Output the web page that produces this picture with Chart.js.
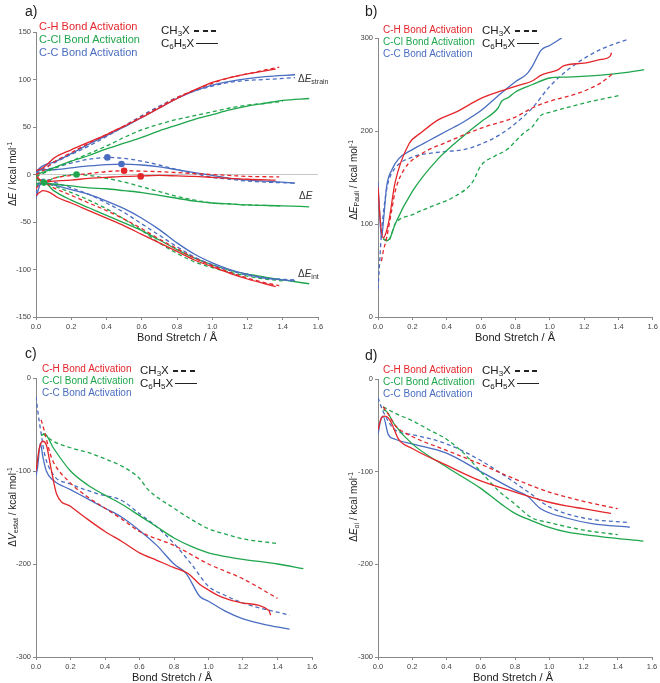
<!DOCTYPE html>
<html>
<head>
<meta charset="utf-8">
<script src="https://cdn.jsdelivr.net/npm/chart.js@4.4.1/dist/chart.umd.min.js"></script>
<style>
  body { margin: 0; background: #fff; }
  #wrap { position: relative; width: 660px; height: 683px; font-family: "Liberation Sans", Arial, sans-serif; color: #222; }
  canvas { position: absolute; }
  .t { position: absolute; white-space: nowrap; line-height: 1; }
  .lab { font-size: 14px; }
  .leg { font-size: 10px; }
  .leg div { height: 12px; }
  .leg.big { font-size: 11px; }
  .leg.big div { height: 13px; }
  .red { color: #e4262b; } .green { color: #1fa64c; } .blue { color: #4a6dc1; }
  .sty { font-size: 11.5px; }
  .sty div { height: 12.5px; }
  .dash { display: inline-block; width: 22px; height: 1.5px; vertical-align: middle; margin-left: 4px;
          background: repeating-linear-gradient(90deg, #222 0, #222 5px, transparent 5px, transparent 8.5px); }
  .solid { display: inline-block; width: 22px; border-top: 1.6px solid #222; vertical-align: middle; margin-left: 2px; }
  .ytit { font-size: 10px; transform: translate(-50%, -50%) rotate(-90deg); }
  .xtit { font-size: 11px; transform: translate(-50%, -50%); }
  .ann { font-size: 10px; color: #333; }
  sub { font-size: 70%; vertical-align: -2px; line-height: 0; }
  sup { font-size: 65%; vertical-align: 4px; line-height: 0; }
</style>
</head>
<body>
<div id="wrap">
  <canvas id="ca" width="330" height="340" style="left:0;top:0"></canvas>
  <canvas id="cb" width="330" height="340" style="left:330px;top:0"></canvas>
  <canvas id="cc" width="330" height="343" style="left:0;top:340px"></canvas>
  <canvas id="cd" width="330" height="343" style="left:330px;top:340px"></canvas>

  <div class="t lab" style="left:25px;top:4px">a)</div>
  <div class="t lab" style="left:365px;top:4px">b)</div>
  <div class="t lab" style="left:25px;top:346px">c)</div>
  <div class="t lab" style="left:365px;top:348px">d)</div>

  <div class="t leg big" style="left:39px;top:21px"><div class="red">C-H Bond Activation</div><div class="green">C-Cl Bond Activation</div><div class="blue">C-C Bond Activation</div></div>
  <div class="t leg" style="left:383px;top:25px"><div class="red">C-H Bond Activation</div><div class="green">C-Cl Bond Activation</div><div class="blue">C-C Bond Activation</div></div>
  <div class="t leg" style="left:42px;top:364px"><div class="red">C-H Bond Activation</div><div class="green">C-Cl Bond Activation</div><div class="blue">C-C Bond Activation</div></div>
  <div class="t leg" style="left:383px;top:365px"><div class="red">C-H Bond Activation</div><div class="green">C-Cl Bond Activation</div><div class="blue">C-C Bond Activation</div></div>

  <div class="t sty" style="left:161px;top:25px"><div>CH<sub>3</sub>X<span class="dash"></span></div><div>C<sub>6</sub>H<sub>5</sub>X<span class="solid"></span></div></div>
  <div class="t sty" style="left:482px;top:25px"><div>CH<sub>3</sub>X<span class="dash"></span></div><div>C<sub>6</sub>H<sub>5</sub>X<span class="solid"></span></div></div>
  <div class="t sty" style="left:140px;top:365px"><div>CH<sub>3</sub>X<span class="dash"></span></div><div>C<sub>6</sub>H<sub>5</sub>X<span class="solid"></span></div></div>
  <div class="t sty" style="left:482px;top:365px"><div>CH<sub>3</sub>X<span class="dash"></span></div><div>C<sub>6</sub>H<sub>5</sub>X<span class="solid"></span></div></div>

  <div class="t ytit" style="left:13px;top:174px">&Delta;<i>E</i> / kcal mol<sup>-1</sup></div>
  <div class="t ytit" style="left:354px;top:180px">&Delta;<i>E</i><sub>Pauli</sub> / kcal mol<sup>-1</sup></div>
  <div class="t ytit" style="left:13px;top:507px">&Delta;<i>V</i><sub>estat</sub> / kcal mol<sup>-1</sup></div>
  <div class="t ytit" style="left:354px;top:507px">&Delta;<i>E</i><sub>oi</sub> / kcal mol<sup>-1</sup></div>

  <div class="t xtit" style="left:177px;top:337px">Bond Stretch / Å</div>
  <div class="t xtit" style="left:515px;top:337px">Bond Stretch / Å</div>
  <div class="t xtit" style="left:172px;top:677px">Bond Stretch / Å</div>
  <div class="t xtit" style="left:513px;top:677px">Bond Stretch / Å</div>

  <div class="t ann" style="left:298px;top:74px">&Delta;<i>E</i><sub>strain</sub></div>
  <div class="t ann" style="left:299px;top:191px">&Delta;<i>E</i></div>
  <div class="t ann" style="left:298px;top:269px">&Delta;<i>E</i><sub>int</sub></div>
</div>

<script>
// tick values
var xTicks = [0, 0.2, 0.4, 0.6, 0.8, 1.0, 1.2, 1.4, 1.6];
var yTicksA = [-150, -100, -50, 0, 50, 100, 150];
var yTicksB = [0, 100, 200, 300];
var yTicksC = [-300, -200, -100, 0];
var yTicksD = [-300, -200, -100, 0];

// panel a: strain, total energy, interaction (Ph = C6H5X solid, Me = CH3X dashed)
var aStrainCH_Ph = [[0,4],[0.03,6],[0.06,10],[0.1,17],[0.2,26],[0.3,34],[0.4,42],[0.5,51],[0.6,60],[0.7,70],[0.8,80],[0.9,89],[1.0,97],[1.1,102],[1.2,106],[1.3,109],[1.36,111]];
var aStrainCH_Me = [[0,0],[0.04,4],[0.1,13],[0.2,23],[0.3,33],[0.4,42],[0.5,51],[0.6,61],[0.7,71],[0.8,81],[0.9,89],[1.0,96],[1.1,102],[1.2,106],[1.3,110],[1.38,113]];
var aStrainCCl_Ph = [[0,0],[0.05,3],[0.1,7],[0.2,14],[0.3,20],[0.4,27],[0.5,33],[0.6,39],[0.7,46],[0.8,52],[0.9,58],[1.0,63],[1.1,68],[1.2,72],[1.3,75],[1.4,78],[1.55,80]];
var aStrainCCl_Me = [[0,-2],[0.05,2],[0.1,6],[0.2,14],[0.3,22],[0.4,30],[0.5,39],[0.6,47],[0.7,53],[0.8,58],[0.9,62],[1.0,66],[1.1,70],[1.2,73],[1.3,75],[1.4,77]];
var aStrainCC_Ph = [[0,3],[0.03,8],[0.06,11],[0.1,13],[0.2,22],[0.3,32],[0.4,41],[0.5,50],[0.6,60],[0.7,70],[0.8,80],[0.9,88],[1.0,94],[1.1,98],[1.2,101],[1.3,103],[1.47,105]];
var aStrainCC_Me = [[0,0],[0.04,6],[0.1,12],[0.2,21],[0.3,30],[0.4,40],[0.5,51],[0.6,62],[0.7,72],[0.8,81],[0.9,88],[1.0,93],[1.1,97],[1.2,99],[1.3,100],[1.47,102]];

var aECH_Ph = [[0,-2],[0.02,-5],[0.04,-8],[0.1,-7],[0.2,-6],[0.3,-4],[0.4,-3],[0.5,-2],[0.6,-1.5],[0.7,-1],[0.8,-1.5],[0.9,-2],[1.0,-3],[1.1,-4],[1.2,-5],[1.36,-6]];
var aECH_Me = [[0,0],[0.02,-4],[0.04,-8],[0.1,-4],[0.2,-1],[0.3,1],[0.4,3],[0.5,4],[0.6,3.5],[0.7,3],[0.8,2],[0.9,1],[1.0,0],[1.1,-1],[1.2,-2],[1.38,-2.5]];
var aECCl_Ph = [[0,-3],[0.02,-6],[0.045,-8.5],[0.1,-10],[0.2,-12],[0.3,-14],[0.4,-15],[0.5,-17],[0.6,-19],[0.7,-22],[0.8,-25],[0.9,-28],[1.0,-30],[1.1,-31],[1.2,-32],[1.4,-33],[1.55,-34]];
var aECCl_Me = [[0,-5],[0.04,-8],[0.1,-4],[0.15,-1.5],[0.23,0],[0.3,-1],[0.4,-4],[0.5,-8],[0.6,-13],[0.7,-18],[0.8,-23],[0.9,-27],[1.0,-30],[1.1,-31],[1.2,-32],[1.4,-33]];
var aECC_Ph = [[0,2],[0.03,5],[0.1,5],[0.2,7],[0.3,9],[0.4,10.5],[0.49,11],[0.6,10],[0.7,8],[0.8,5],[0.9,2],[1.0,-1],[1.1,-4],[1.2,-6],[1.3,-7],[1.47,-9]];
var aECC_Me = [[0,0],[0.03,4],[0.1,7],[0.2,12],[0.3,16],[0.41,18],[0.5,17],[0.6,14],[0.7,10],[0.8,5],[0.9,1],[1.0,-3],[1.1,-5],[1.2,-7],[1.3,-8],[1.47,-9]];

var aIntCH_Ph = [[0,-22],[0.02,-19],[0.04,-17],[0.08,-19],[0.12,-24],[0.2,-30],[0.3,-38],[0.4,-46],[0.5,-54],[0.6,-63],[0.7,-72],[0.8,-81],[0.9,-90],[1.0,-97],[1.1,-104],[1.2,-110],[1.3,-115],[1.36,-118]];
var aIntCH_Me = [[0,-15],[0.02,-10],[0.04,-8],[0.1,-14],[0.2,-22],[0.3,-30],[0.4,-38],[0.5,-47],[0.6,-57],[0.7,-68],[0.8,-78],[0.9,-88],[1.0,-96],[1.1,-103],[1.2,-109],[1.3,-114],[1.38,-117]];
var aIntCCl_Ph = [[0,-12],[0.03,-9],[0.05,-9],[0.1,-17],[0.2,-27],[0.3,-35],[0.4,-43],[0.5,-51],[0.6,-59],[0.7,-69],[0.8,-79],[0.9,-88],[1.0,-95],[1.1,-101],[1.2,-105],[1.3,-108],[1.4,-111],[1.55,-115]];
var aIntCCl_Me = [[0,-10],[0.04,-8],[0.1,-12],[0.2,-19],[0.3,-27],[0.4,-36],[0.5,-47],[0.6,-59],[0.7,-72],[0.8,-83],[0.9,-92],[1.0,-98],[1.1,-103],[1.2,-107],[1.3,-110],[1.4,-112]];
var aIntCC_Ph = [[0,-25],[0.02,-12],[0.04,-8],[0.1,-11],[0.2,-16],[0.3,-21],[0.4,-28],[0.5,-36],[0.6,-46],[0.7,-58],[0.8,-72],[0.9,-84],[1.0,-93],[1.1,-100],[1.2,-105],[1.3,-109],[1.47,-112]];
var aIntCC_Me = [[0,-20],[0.02,-8],[0.05,-5],[0.1,-8],[0.2,-14],[0.3,-21],[0.4,-30],[0.5,-40],[0.6,-52],[0.7,-64],[0.8,-76],[0.9,-87],[1.0,-95],[1.1,-101],[1.2,-106],[1.3,-109],[1.47,-111]];

// transition states marked on the ΔE curves
var tsRed = [[0.594,-2],[0.5,4]];
var tsGreen = [[0.23,0],[0.045,-8.5]];
var tsBlue = [[0.485,11],[0.405,18]];
var zeroLine = [[0,0],[1.6,0]];

// panel b: Pauli repulsion
var bCH_Ph = [[0,140],[0.015,100],[0.03,85],[0.06,100],[0.1,145],[0.18,186],[0.25,198],[0.35,212],[0.45,220],[0.6,235],[0.7,242],[0.8,248],[0.9,254],[0.95,260],[1.0,263],[1.05,266],[1.08,270],[1.2,273],[1.3,277],[1.35,280],[1.36,284]];
var bCH_Me = [[0.02,60],[0.03,70],[0.05,85],[0.08,115],[0.1,135],[0.15,158],[0.25,175],[0.4,188],[0.6,203],[0.8,215],[0.9,225],[1.0,232],[1.1,237],[1.2,243],[1.3,252],[1.37,262]];
var bCCl_Ph = [[0.03,84],[0.05,82],[0.07,85],[0.1,100],[0.2,135],[0.35,170],[0.5,195],[0.6,210],[0.7,225],[0.72,232],[0.76,236],[0.8,242],[0.9,250],[1.0,257],[1.1,258],[1.3,260],[1.45,263],[1.55,266]];
var bCCl_Me = [[0.03,84],[0.06,82],[0.1,100],[0.2,110],[0.3,118],[0.45,130],[0.55,145],[0.6,163],[0.68,173],[0.75,180],[0.85,198],[0.9,205],[0.95,217],[1.0,220],[1.2,230],[1.4,238]];
var bCC_Ph = [[0,145],[0.01,110],[0.02,85],[0.035,110],[0.05,140],[0.08,158],[0.12,170],[0.2,180],[0.3,190],[0.4,200],[0.5,210],[0.6,222],[0.7,238],[0.8,253],[0.87,262],[0.9,270],[0.95,287],[1.0,292],[1.07,300]];
var bCC_Me = [[0,30],[0.01,60],[0.02,90],[0.04,125],[0.06,145],[0.1,160],[0.2,172],[0.3,176],[0.4,178],[0.5,180],[0.6,186],[0.7,195],[0.8,208],[0.9,225],[1.0,248],[1.1,265],[1.2,278],[1.3,288],[1.46,299]];

// panel c: electrostatic interaction
var cCH_Ph = [[0,-100],[0.02,-75],[0.04,-68],[0.06,-72],[0.09,-100],[0.12,-125],[0.2,-138],[0.3,-152],[0.4,-165],[0.5,-176],[0.6,-188],[0.7,-196],[0.8,-204],[0.88,-210],[0.95,-222],[1.0,-228],[1.07,-235],[1.2,-242],[1.35,-250],[1.36,-255]];
var cCH_Me = [[0.03,-45],[0.05,-58],[0.08,-80],[0.1,-90],[0.2,-113],[0.3,-128],[0.4,-140],[0.5,-152],[0.6,-165],[0.8,-180],[1.0,-200],[1.2,-216],[1.4,-237]];
var cCCl_Ph = [[0.03,-62],[0.05,-60],[0.1,-75],[0.2,-100],[0.3,-115],[0.4,-126],[0.5,-136],[0.6,-148],[0.7,-160],[0.8,-172],[0.9,-181],[1.0,-188],[1.1,-192],[1.2,-195],[1.4,-200],[1.55,-205]];
var cCCl_Me = [[0.04,-60],[0.1,-68],[0.2,-75],[0.3,-80],[0.4,-87],[0.5,-95],[0.6,-108],[0.65,-120],[0.8,-140],[0.9,-152],[1.0,-162],[1.1,-168],[1.2,-173],[1.4,-178]];
var cCC_Ph = [[0,-105],[0.01,-95],[0.025,-70],[0.04,-85],[0.06,-100],[0.1,-110],[0.2,-120],[0.3,-130],[0.4,-140],[0.5,-150],[0.6,-164],[0.7,-180],[0.8,-200],[0.87,-210],[0.95,-235],[1.0,-240],[1.1,-251],[1.2,-259],[1.35,-266],[1.47,-270]];
var cCC_Me = [[0,-20],[0.01,-35],[0.03,-60],[0.05,-82],[0.1,-104],[0.2,-114],[0.35,-124],[0.5,-132],[0.6,-146],[0.7,-160],[0.8,-178],[0.9,-200],[1.0,-224],[1.1,-234],[1.2,-242],[1.47,-255]];

// panel d: orbital interaction
var dCH_Ph = [[0,-55],[0.02,-42],[0.04,-40],[0.06,-42],[0.08,-48],[0.12,-65],[0.2,-75],[0.4,-93],[0.6,-110],[0.8,-122],[1.0,-133],[1.1,-137],[1.2,-140],[1.36,-145]];
var dCH_Me = [[0.03,-30],[0.06,-38],[0.1,-50],[0.2,-62],[0.4,-77],[0.6,-92],[0.8,-108],[1.0,-122],[1.2,-132],[1.4,-140]];
var dCCl_Ph = [[0.03,-33],[0.05,-35],[0.1,-50],[0.2,-70],[0.4,-95],[0.6,-118],[0.72,-135],[0.8,-145],[0.9,-153],[1.0,-160],[1.1,-165],[1.3,-170],[1.55,-175]];
var dCCl_Me = [[0.03,-30],[0.1,-37],[0.2,-45],[0.3,-55],[0.4,-65],[0.5,-80],[0.6,-100],[0.7,-120],[0.8,-135],[0.9,-150],[1.0,-155],[1.2,-163],[1.4,-168]];
var dCC_Ph = [[0,-60],[0.015,-45],[0.03,-40],[0.06,-60],[0.1,-65],[0.2,-70],[0.4,-80],[0.6,-100],[0.8,-120],[0.87,-126],[0.95,-140],[1.1,-150],[1.25,-156],[1.47,-160]];
var dCC_Me = [[0,-20],[0.015,-28],[0.03,-35],[0.1,-55],[0.2,-60],[0.4,-70],[0.6,-88],[0.8,-112],[0.9,-125],[1.0,-138],[1.2,-150],[1.47,-155]];

var RED = '#e4262b', GREEN = '#1fa64c', BLUE = '#4a6dc1';

function ln(pts, color, dashed) {
  return {
    data: pts.map(function(p) { return {x: p[0], y: p[1]}; }),
    borderColor: color, borderWidth: 1.3, borderDash: dashed ? [4, 3] : [],
    pointRadius: 0, fill: false, cubicInterpolationMode: 'monotone'
  };
}
function dots(pts, color) {
  return {
    type: 'scatter',
    data: pts.map(function(p) { return {x: p[0], y: p[1]}; }),
    backgroundColor: color, borderWidth: 0, pointRadius: 3.3, showLine: false
  };
}

function build(id, sets, yTicks, area) {
  var cv = document.getElementById(id);
  var W = cv.width, H = cv.height;
  new Chart(cv, {
    type: 'line',
    data: { datasets: sets },
    options: {
      responsive: false, animation: false,
      layout: { padding: { left: 0, top: area.t, right: W - area.r, bottom: 0 } },
      plugins: { legend: { display: false }, tooltip: { enabled: false } },
      scales: {
        x: {
          type: 'linear', min: 0, max: 1.6,
          afterBuildTicks: function(s) { s.ticks = xTicks.map(function(v) { return {value: v}; }); },
          afterFit: function(s) { s.height = H - area.b; },
          grid: { drawOnChartArea: false, tickLength: 3, color: '#888' },
          border: { color: '#888' },
          ticks: { font: { size: 7.5, family: 'Liberation Sans' }, color: '#444', padding: 2, maxRotation: 0,
                   callback: function(v) { return v.toFixed(1); } }
        },
        y: {
          type: 'linear', min: yTicks[0], max: yTicks[yTicks.length - 1],
          afterBuildTicks: function(s) { s.ticks = yTicks.map(function(v) { return {value: v}; }); },
          afterFit: function(s) { s.width = area.l; },
          grid: { drawOnChartArea: false, tickLength: 3, color: '#888' },
          border: { color: '#888' },
          ticks: { font: { size: 7.5, family: 'Liberation Sans' }, color: '#444', padding: 2 }
        }
      }
    }
  });
}

build('ca', [
  dots(tsRed, RED), dots(tsGreen, GREEN), dots(tsBlue, BLUE),
  ln(aStrainCH_Me, RED, true), ln(aStrainCH_Ph, RED, false),
  ln(aStrainCC_Me, BLUE, true), ln(aStrainCC_Ph, BLUE, false),
  ln(aStrainCCl_Me, GREEN, true), ln(aStrainCCl_Ph, GREEN, false),
  ln(aECH_Me, RED, true), ln(aECH_Ph, RED, false),
  ln(aECC_Me, BLUE, true), ln(aECC_Ph, BLUE, false),
  ln(aECCl_Me, GREEN, true), ln(aECCl_Ph, GREEN, false),
  ln(aIntCH_Me, RED, true), ln(aIntCH_Ph, RED, false),
  ln(aIntCC_Me, BLUE, true), ln(aIntCC_Ph, BLUE, false),
  ln(aIntCCl_Me, GREEN, true), ln(aIntCCl_Ph, GREEN, false),
  Object.assign(ln(zeroLine, '#c8c8c8', false), { borderWidth: 1 })
], yTicksA, { l: 36, t: 32, r: 318, b: 317 });

build('cb', [
  ln(bCH_Me, RED, true), ln(bCH_Ph, RED, false),
  ln(bCCl_Me, GREEN, true), ln(bCCl_Ph, GREEN, false),
  ln(bCC_Me, BLUE, true), ln(bCC_Ph, BLUE, false)
], yTicksB, { l: 48, t: 38, r: 323, b: 317 });

build('cc', [
  ln(cCH_Me, RED, true), ln(cCH_Ph, RED, false),
  ln(cCCl_Me, GREEN, true), ln(cCCl_Ph, GREEN, false),
  ln(cCC_Me, BLUE, true), ln(cCC_Ph, BLUE, false)
], yTicksC, { l: 36, t: 38, r: 312, b: 317 });

build('cd', [
  ln(dCH_Me, RED, true), ln(dCH_Ph, RED, false),
  ln(dCCl_Me, GREEN, true), ln(dCCl_Ph, GREEN, false),
  ln(dCC_Me, BLUE, true), ln(dCC_Ph, BLUE, false)
], yTicksD, { l: 48, t: 39, r: 322, b: 317 });
</script>
</body>
</html>
